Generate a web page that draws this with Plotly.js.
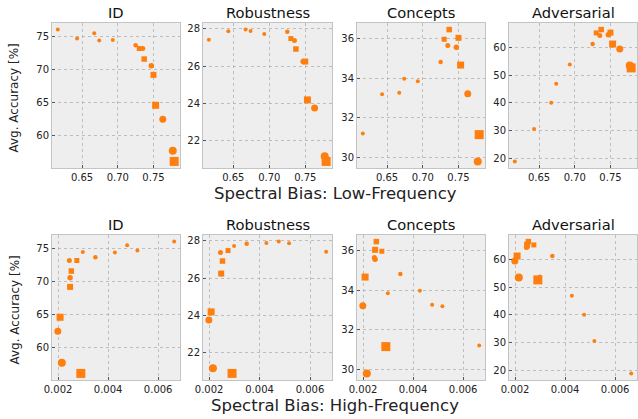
<!DOCTYPE html>
<html><head><meta charset="utf-8">
<script src="https://cdn.plot.ly/plotly-3.0.1.min.js"></script>
<style>html,body{margin:0;padding:0;background:#fff}</style>
</head><body><div id="chart" style="width:638px;height:419px"></div>
<script>
// ---- data (one entry per model) ----
const lowFreqBias = [0.616,0.643,0.667,0.674,0.693,0.725,0.730,0.735,0.737,0.747,0.750,0.753,0.763,0.777,0.779];
const highFreqBias = [0.00664,0.00517,0.00476,0.00427,0.00299,0.00349,0.00275,0.00245,0.00253,0.00248,0.00248,0.00208,0.00199,0.00215,0.00291];
const accID = [76.06,74.7,75.5,74.4,74.5,73.7,73.2,73.2,71.6,70.6,69.2,64.6,62.5,57.7,56.1];
const accRobustness = [27.41,27.86,27.95,27.87,27.71,27.84,27.47,27.36,26.91,26.24,26.24,24.19,23.75,21.18,20.90];
const accConcepts = [31.20,33.19,33.27,33.98,33.85,34.82,35.98,35.66,36.47,35.57,36.05,34.67,33.22,29.78,31.14];
const accAdversarial = [18.9,30.6,40.0,46.9,53.8,61.2,65.2,64.3,66.4,64.5,65.3,61.2,59.4,53.5,52.6];
const panelTitles = ["ID","Robustness","Concepts","Adversarial"];
const rowLabels = ["Spectral Bias: Low-Frequency","Spectral Bias: High-Frequency"];
const yLabel = "Avg. Accuracy [%]";

// ---- styles ----
const markerSymbols = ['circle','circle','circle','circle','circle','circle','square','circle','square','circle','square','square','circle','circle','square'];
const markerSizes = [4,4,4,4,4,4.5,5,5,5.5,5.5,6,7,7,8,9];
const W = 638, H = 419;
const colPx = [[52,180],[203,332],[357,485],[509,637]];
const rowPx = [[23,168],[235,380]];
const yDticks = [5,2,2,10];
const xDticks = [0.05,0.002];
const xFormats = ['.2f','.3f'];
const FONT = 'DejaVu Sans, sans-serif';

function padRange(arr){
  const mn = Math.min(...arr), mx = Math.max(...arr), s = mx - mn;
  return [mn - 0.05*s, mx + 0.05*s];
}

const accs = [accID, accRobustness, accConcepts, accAdversarial];
const xs = [lowFreqBias, highFreqBias];
const data = [];
const layout = {
  width: W, height: H, margin:{l:0,r:0,t:0,b:0},
  paper_bgcolor:'#ffffff', plot_bgcolor:'#eeeeee',
  showlegend:false, font:{family:FONT, color:'#222', size:10},
  annotations: []
};

for (let r=0;r<2;r++){
  for (let c=0;c<4;c++){
    const idx = r*4+c+1;
    const xa = 'xaxis'+(idx===1?'':idx), ya = 'yaxis'+(idx===1?'':idx);
    const xr = 'x'+(idx===1?'':idx), yr = 'y'+(idx===1?'':idx);
    data.push({
      type:'scatter', mode:'markers', x: xs[r], y: accs[c], xaxis: xr, yaxis: yr,
      marker:{color:'#ff7f0e', opacity:1, size: markerSizes, symbol: markerSymbols, line:{width:0}},
      hoverinfo:'x+y'
    });
    const common = {
      showgrid:true, gridcolor:'#b2b2b2', griddash:'dot', gridwidth:0.8,
      showline:true, mirror:true, linecolor:'#c4c4c4', linewidth:1,
      ticks:'inside', ticklen:3, tickwidth:1, tickcolor:'#555',
      zeroline:false, tickfont:{family:FONT, size:10, color:'#222'}
    };
    layout[xa] = Object.assign({}, common, {
      domain:[colPx[c][0]/W, colPx[c][1]/W], anchor: yr,
      range: padRange(xs[r]), dtick: xDticks[r], tick0: 0, tickformat: xFormats[r]
    });
    layout[ya] = Object.assign({}, common, {
      domain:[1-rowPx[r][1]/H, 1-rowPx[r][0]/H], anchor: xr,
      range: padRange(accs[c]), dtick: yDticks[c], tick0: 0
    });
    layout.annotations.push({
      text: panelTitles[c], xref:'paper', yref:'paper',
      x: (colPx[c][0]+colPx[c][1])/2/W, y: 1-(rowPx[r][0]-11)/H,
      xanchor:'center', yanchor:'middle', showarrow:false,
      font:{family:FONT, size:14.7, color:'#111'}
    });
  }
  layout.annotations.push({
    text: yLabel, xref:'paper', yref:'paper', textangle:-90,
    x: 14/W, y: 1-((rowPx[r][0]+rowPx[r][1])/2+3)/H,
    xanchor:'center', yanchor:'middle', showarrow:false,
    font:{family:FONT, size:12, color:'#222'}
  });
  layout.annotations.push({
    text: rowLabels[r], xref:'paper', yref:'paper',
    x: 335/W, y: 1-(rowPx[r][1]+25)/H,
    xanchor:'center', yanchor:'middle', showarrow:false,
    font:{family:FONT, size:16.5, color:'#222'}
  });
}

Plotly.newPlot('chart', data, layout, {displayModeBar:false, staticPlot:true});
</script></body></html>
